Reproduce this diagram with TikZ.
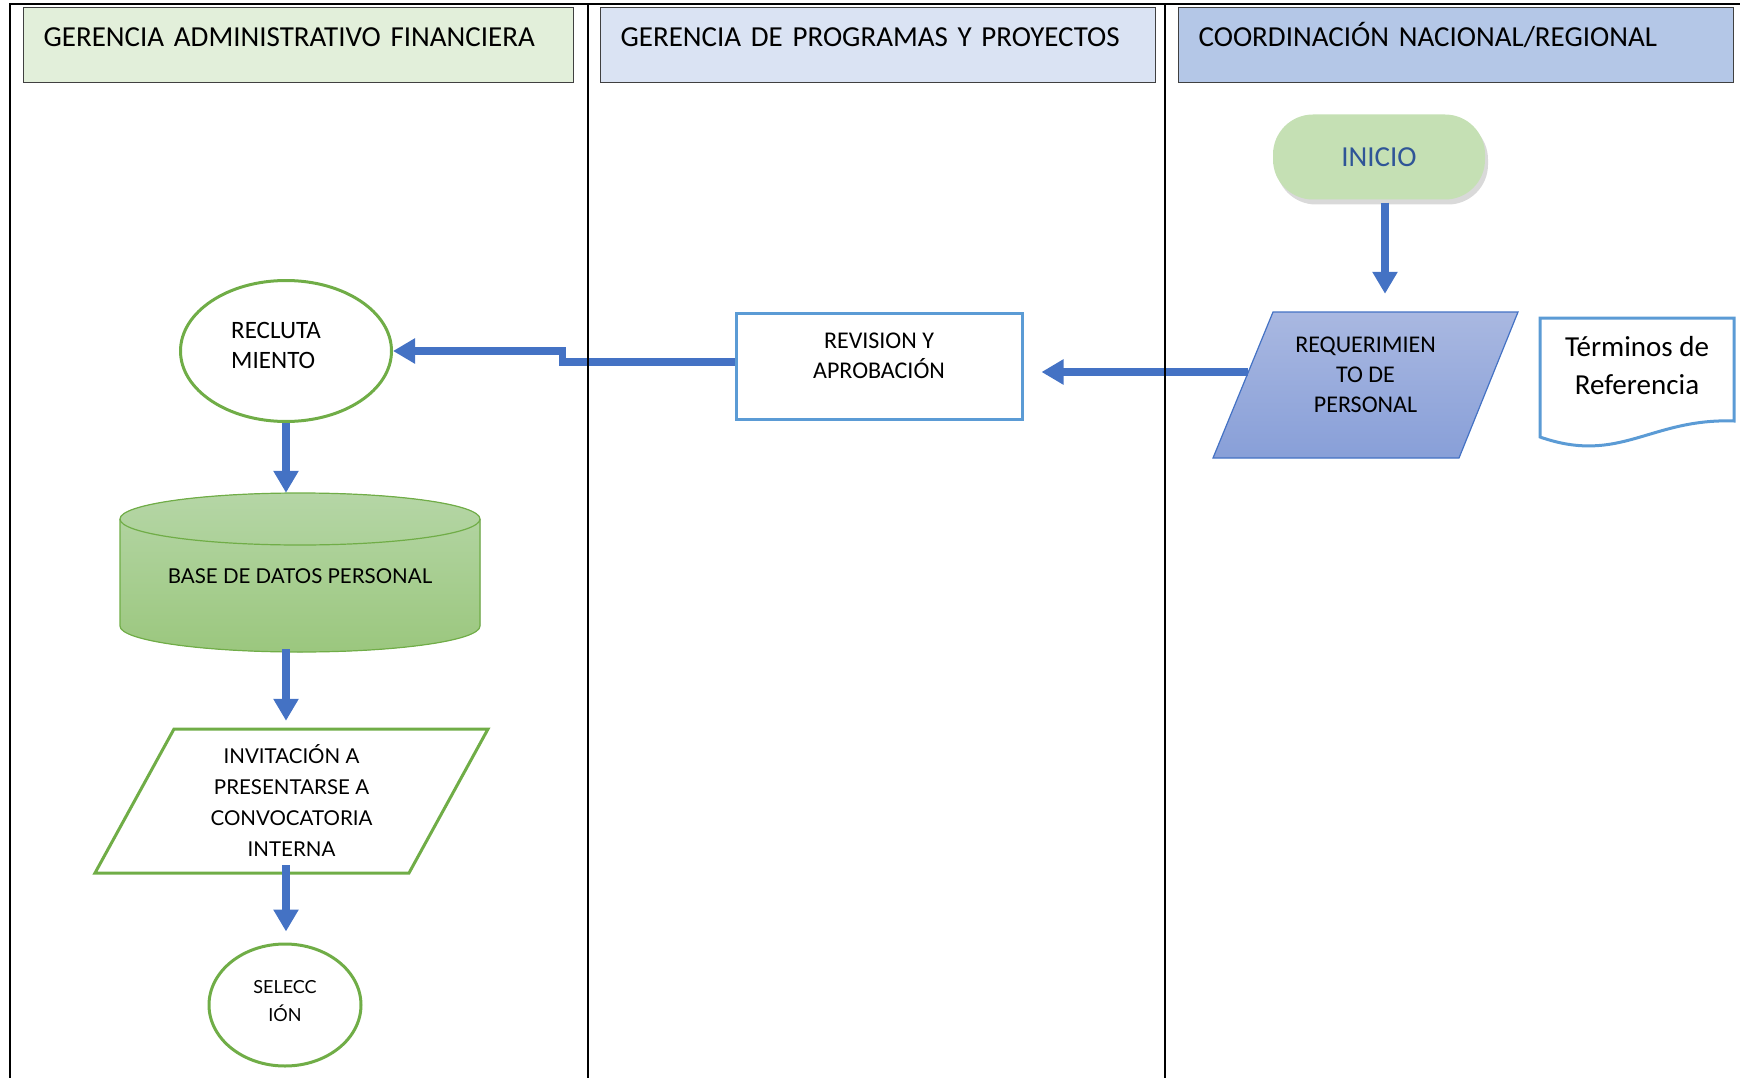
\documentclass[tikz,border=0pt]{standalone}
\usepackage{fontspec}
\setmainfont{Carlito}
\newfontfamily\gillfont{Lato}
\usetikzlibrary{arrows.meta,shapes.geometric,shadows,calc}

\definecolor{azulflecha}{HTML}{4472C4}
\definecolor{verdeborde}{HTML}{70AD47}
\definecolor{azulborde}{HTML}{5B9BD5}
\definecolor{cabverde}{HTML}{E2EFDA}
\definecolor{cabgris}{HTML}{DAE3F3}
\definecolor{cabazul}{HTML}{B4C7E7}
\definecolor{inicioverde}{HTML}{C5E0B4}
\definecolor{iniciotexto}{HTML}{2F5597}
\definecolor{reqarriba}{HTML}{A9B8E1}
\definecolor{reqabajo}{HTML}{889FD8}
\definecolor{bdarriba}{HTML}{B5D6A6}
\definecolor{bdabajo}{HTML}{9BC77E}

\tikzset{
  cabecera/.style={anchor=north west, draw=black!75, line width=1.2pt, text width=510pt, align=left,
    inner xsep=20pt, inner ysep=0pt, text height=39pt, text depth=36pt, font=\fontsize{29}{35}\selectfont},
  flecha/.style={draw=azulflecha, line width=7.5pt, -{Triangle[width=24pt,length=22pt]}},
  caja/.style={align=center, font=\fontsize{24}{30}\selectfont},
}

\begin{document}
\begin{tikzpicture}[x=1pt, y=-1pt]
        \useasboundingbox (0,0) rectangle (1740,1078);

        \node[cabecera, fill=cabverde] (gaf) at (23,7) {GERENCIA ADMINISTRATIVO FINANCIERA};
        \node[cabecera, fill=cabgris, text width=515pt] (gpp) at (600,7) {GERENCIA DE PROGRAMAS Y PROYECTOS};
        \node[cabecera, fill=cabazul, text width=515pt] (cnr) at (1178,7) {COORDINACIÓN NACIONAL/REGIONAL};

        \node[fill=inicioverde, rounded corners=40pt, minimum width=212pt, minimum height=85pt,
              text=iniciotexto, font=\fontsize{29}{35}\selectfont,
              drop shadow={shadow xshift=3pt, shadow yshift=-5pt, opacity=0.3}] (inicio) at (1379,157) {INICIO};

        \draw[azulflecha, line width=1.2pt, top color=reqarriba, bottom color=reqabajo]
            (1273,312) -- (1518,312) -- (1459,458) -- (1213,458) -- cycle;
        \node[minimum width=305pt, minimum height=146pt,
              label={[caja, yshift=10pt]center:{REQUERIMIEN\\TO DE\\PERSONAL}}] (req) at (1365.5,385) {};

        \draw[azulborde, line width=3pt, fill=white] (1540,318) -- (1734,318) -- (1734,421)
            .. controls (1650,418) and (1620,465) .. (1540,437) -- cycle;
        \node[align=center, font=\fontsize{29}{38}\selectfont] (terminos) at (1637,366) {Términos de\\Referencia};

        \node[draw=azulborde, line width=3pt, minimum width=286pt, minimum height=106pt,
              label={[caja, yshift=10pt]center:{REVISION Y\\APROBACIÓN}}] (revision) at (879,366) {};

        \node[ellipse, draw=verdeborde, line width=3pt, minimum width=211pt, minimum height=141pt,
              label={[align=left, font=\fontsize{25}{30}\selectfont, xshift=-10pt, yshift=6pt]center:{RECLUTA\\MIENTO}}] (recluta) at (286,351) {};

        \fill[top color=bdarriba, bottom color=bdabajo] (120,519) -- (120,626)
            arc[start angle=180, end angle=0, x radius=180, y radius=26] -- (480,519)
            arc[start angle=0, end angle=-180, x radius=180, y radius=26] -- cycle;
        \draw[verdeborde, line width=1.2pt] (120,519) -- (120,626)
            arc[start angle=180, end angle=0, x radius=180, y radius=26] -- (480,519);
        \draw[verdeborde, line width=1.2pt] (300,519) ellipse[x radius=180, y radius=26];
        \node[minimum width=360pt, minimum height=159pt,
              label={[font=\gillfont\fontsize{20.5}{25}\selectfont, yshift=-4pt]center:BASE DE DATOS PERSONAL}] (basedatos) at (300,572.5) {};

        \draw[verdeborde, line width=3pt, fill=white] (174,729) -- (488,729) -- (409,873) -- (95,873) -- cycle;
        \node[minimum width=393pt, minimum height=144pt, align=center,
              font=\gillfont\fontsize{20.5}{31}\selectfont] (invitacion) at (291.5,801)
              {INVITACIÓN A\\PRESENTARSE A\\CONVOCATORIA\\INTERNA};

        \node[ellipse, draw=verdeborde, line width=3pt, minimum width=152pt, minimum height=122pt,
              label={[align=center, font=\gillfont\fontsize{18}{28}\selectfont, yshift=4pt]center:{SELECC\\IÓN}}] (seleccion) at (285,1005) {};

        \draw[flecha, shorten <=3pt, shorten >=18pt] ($(inicio.south)+(6,0)$) -- ($(inicio.south |- req.north)+(6,0)$);
        \draw[flecha, shorten >=18pt] ($(req.west)+(35,-13)$) -- ($(req.west -| revision.east)+(0,-13)$);
        \draw[flecha] ($(revision.west)+(0,-4)$) -- ++(-172,0) |- (recluta.east);
        \draw[flecha] (recluta.south) -- (recluta.south |- basedatos.north);
        \draw[flecha, shorten <=-3pt, shorten >=8pt] (recluta.south |- basedatos.south) -- (recluta.south |- invitacion.north);
        \draw[flecha, shorten <=-8pt, shorten >=11pt] (recluta.south |- invitacion.south) -- (recluta.south |- seleccion.north);

        \draw[line width=2pt] (10,1078) -- (10,4) -- (1740,4);
        \foreach \x in {588, 1165} {
            \draw[line width=2pt] (\x,4) -- (\x,1078);
        }
    \end{tikzpicture}
\end{document}
